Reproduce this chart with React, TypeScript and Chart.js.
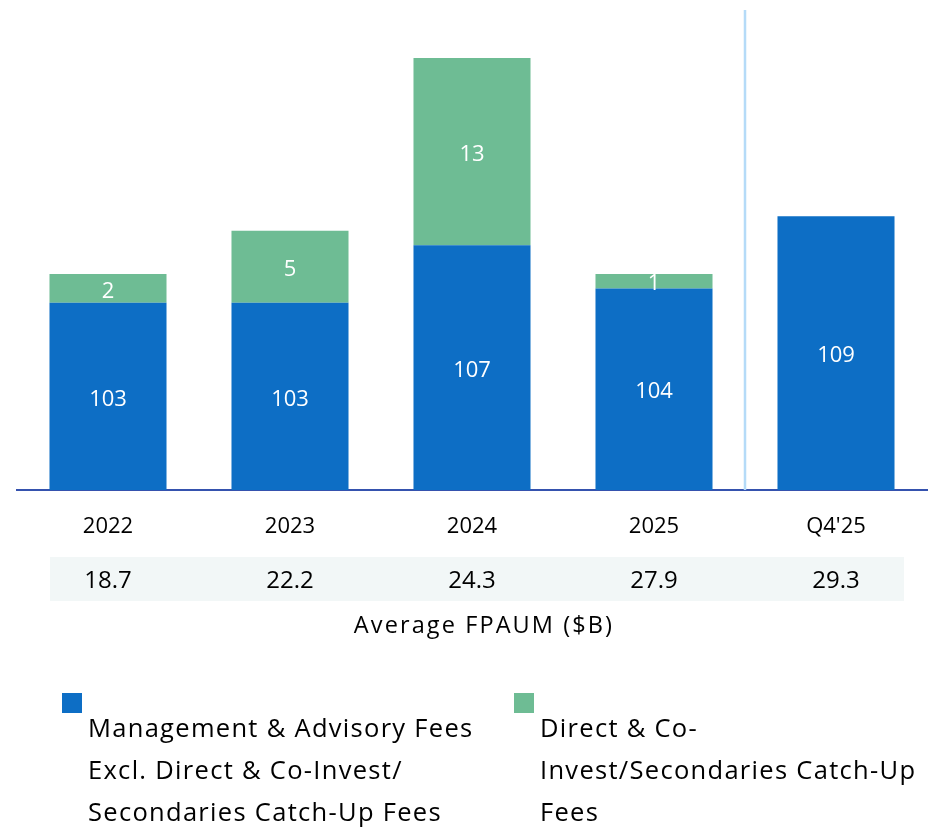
import React, { useEffect, useRef } from "react";
import { Chart, registerables } from "chart.js";

Chart.register(...registerables);

const categories = ["2022", "2023", "2024", "2025", "Q4'25"];
const mgmtFees = [103, 103, 107, 104, 109];
const catchUpFees = [2, 5, 13, 1, null];
const avgFpaum = ["18.7", "22.2", "24.3", "27.9", "29.3"];
const fpaumTitle = "Average FPAUM ($B)";
const mgmtLegend = ["Management & Advisory Fees", "Excl. Direct & Co-Invest/", "Secondaries Catch-Up Fees"];
const catchUpLegend = ["Direct & Co-", "Invest/Secondaries Catch-Up", "Fees"];

const BLUE = "#0d6ec5";
const GREEN = "#6ebc94";
const FONT = "'Open Sans', Lato, sans-serif";
const FS = 22;

const overlay = {
  id: "overlay",
  afterDatasetsDraw(chart: any) {
    const { ctx, chartArea, scales } = chart;
    const x = scales.x;
    ctx.save();
    // divider line
    const xd = (x.getPixelForValue(3) + x.getPixelForValue(4)) / 2;
    ctx.strokeStyle = "#b5dbf8";
    ctx.lineWidth = 2.5;
    ctx.beginPath();
    ctx.moveTo(xd, chartArea.top);
    ctx.lineTo(xd, chartArea.bottom);
    ctx.stroke();
    // data labels
    ctx.fillStyle = "#ffffff";
    ctx.font = `${FS}px ${FONT}`;
    ctx.textAlign = "center";
    ctx.textBaseline = "middle";
    chart.data.datasets.forEach((ds: any, di: number) => {
      const meta = chart.getDatasetMeta(di);
      meta.data.forEach((el: any, i: number) => {
        const v = ds.data[i];
        if (v === null || v === undefined) return;
        const top = Math.max(el.y, chartArea.top);
        const bot = Math.min(el.base, chartArea.bottom);
        ctx.fillText(String(v), el.x, (top + bot) / 2 + 3);
      });
    });
    ctx.restore();
  },
  afterDraw(chart: any) {
    const { ctx, scales } = chart;
    const x = scales.x;
    ctx.save();
    // FPAUM band
    ctx.fillStyle = "#f2f7f7";
    ctx.fillRect(50, 557, 854, 44);
    ctx.fillStyle = "#000000";
    ctx.font = `24px ${FONT}`;
    ctx.textAlign = "center";
    ctx.textBaseline = "middle";
    avgFpaum.forEach((v, i) => {
      ctx.fillText(v, x.getPixelForValue(i), 581);
    });
    ctx.font = `23.5px ${FONT}`;
    (ctx as any).letterSpacing = "2.1px";
    ctx.fillText(fpaumTitle, 484, 626);
    // legend
    ctx.font = `25.5px ${FONT}`;
    (ctx as any).letterSpacing = "1.3px";
    const items = [
      { color: chart.data.datasets[0].backgroundColor, lines: mgmtLegend, sx: 62, tx: 88 },
      { color: chart.data.datasets[1].backgroundColor, lines: catchUpLegend, sx: 514, tx: 540 },
    ];
    items.forEach((it) => {
      ctx.fillStyle = it.color;
      ctx.fillRect(it.sx, 693, 20, 20);
      ctx.fillStyle = "#000000";
      ctx.textAlign = "left";
      ctx.textBaseline = "alphabetic";
      it.lines.forEach((ln, k) => {
        ctx.fillText(ln, it.tx, 737 + k * 42);
      });
    });
    ctx.restore();
  },
};

export default function App() {
  const ref = useRef<HTMLCanvasElement>(null);
  useEffect(() => {
    if (!ref.current) return;
    const chart = new Chart(ref.current, {
      type: "bar",
      data: {
        labels: categories,
        datasets: [
          { label: mgmtLegend.join(" "), data: mgmtFees, backgroundColor: BLUE, clip: 0 } as any,
          { label: catchUpLegend.join(" "), data: catchUpFees, backgroundColor: GREEN, clip: 0 } as any,
        ],
      },
      options: {
        responsive: false,
        animation: false,
        layout: { padding: { left: 17, right: 7, top: 10, bottom: 0 } },
        datasets: { bar: { barPercentage: 1, categoryPercentage: 0.643 } },
        plugins: { legend: { display: false }, tooltip: { enabled: false } },
        scales: {
          x: {
            stacked: true,
            grid: { display: false, drawTicks: false },
            border: { display: true, color: "#3552ae", width: 2 },
            ticks: { color: "#000", font: { family: FONT, size: FS }, padding: 24, maxRotation: 0 },
            afterFit: (s: any) => { s.height = 337; },
          },
          y: {
            stacked: true,
            display: false,
            min: 90,
            max: 123.33,
          },
        },
      },
      plugins: [overlay],
    });
    return () => chart.destroy();
  }, []);
  return (
    <div style={{ position: "fixed", left: 0, top: 0, width: 934, height: 827, background: "#fff" }}>
      <canvas ref={ref} width={934} height={827} style={{ display: "block" }} />
    </div>
  );
}
